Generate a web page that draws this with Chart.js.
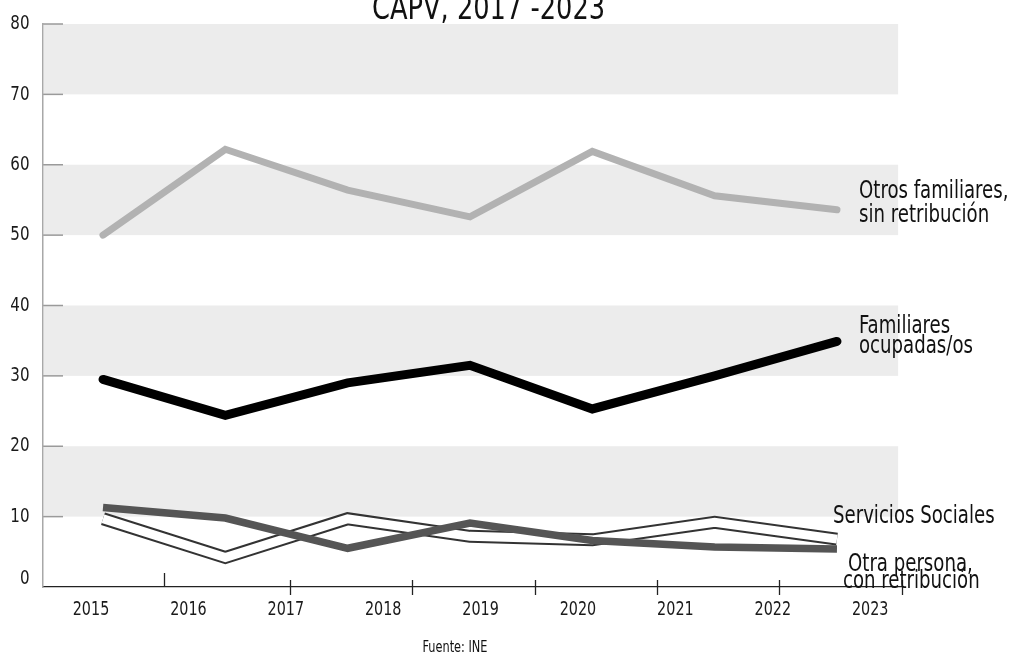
<!DOCTYPE html>
<html><head><meta charset="utf-8">
<script src="https://cdn.jsdelivr.net/npm/chart.js@4"></script>
<style>html,body{margin:0;padding:0;background:#fff}canvas{display:block}</style>
</head><body>
<canvas id="c" width="1011" height="654"></canvas>
<script>
// ---- data ----
const years = ['2017','2018','2019','2020','2021','2022','2023'];
const axisYearLabels = ['2015','2016','2017','2018','2019','2020','2021','2022','2023'];
const otrosFamiliares = [50.0, 62.2, 56.4, 52.6, 61.9, 55.6, 53.6];
const familiaresOcupadas = [29.5, 24.4, 29.0, 31.5, 25.3, 30.0, 34.9];
const serviciosSociales = [9.7, 4.2, 9.7, 7.2, 6.7, 9.2, 6.8];
const otraPersona = [11.3, 9.8, 5.5, 9.1, 6.6, 5.7, 5.4];
const yTickValues = [0, 10, 20, 30, 40, 50, 60, 70, 80];
const titleText = 'CAPV, 2017 -2023';
const sourceText = 'Fuente: INE';
const seriesLabels = {
  otros: ['Otros familiares,', 'sin retribución'],
  familiares: ['Familiares', 'ocupadas/os'],
  servicios: ['Servicios Sociales'],
  otra: ['Otra persona,', 'con retribución']
};

const FONT = '"Liberation Sans Narrow", "DejaVu Sans Condensed", "Roboto Condensed", sans-serif';
const SX = 0.84; // horizontal condensing of text
const pts = arr => years.map((_, i) => ({x: i, y: arr[i]}));

function txt(ctx, t, x, y, size, align, base, weight) {
  ctx.save();
  ctx.font = (weight || 'normal') + ' ' + size + 'px ' + FONT;
  ctx.textAlign = align;
  ctx.textBaseline = base;
  ctx.translate(x, y);
  ctx.scale(SX, 1);
  ctx.fillText(t, 0, 0);
  ctx.restore();
}

const decor = {
  id: 'decor',
  beforeDraw(chart) {
    const {ctx, chartArea: a, scales: {x, y}} = chart;
    ctx.save();
    ctx.fillStyle = '#ececec';
    const right = x.getPixelForValue(6.5);
    yTickValues.forEach(v => {
      if ((v / 10) % 2 === 1) {
        const t = y.getPixelForValue(v + 10), b = y.getPixelForValue(v);
        ctx.fillRect(a.left + 1, t, right - a.left - 1, b - t);
      }
    });
    ctx.strokeStyle = '#9a9a9a';
    ctx.lineWidth = 1.5;
    yTickValues.forEach(v => {
      if (v === 0) return;
      const p = y.getPixelForValue(v);
      ctx.beginPath(); ctx.moveTo(a.left, p); ctx.lineTo(a.left + 20, p); ctx.stroke();
    });
    ctx.restore();
  },
  afterDraw(chart) {
    const {ctx, chartArea: a, scales: {x, x2, y}} = chart;
    ctx.save();
    ctx.strokeStyle = '#222';
    ctx.lineWidth = 1.3;
    [0.5, 1.53, 2.53, 3.53, 4.53, 5.53, 6.53].forEach((v, i) => {
      const p = Math.round(x.getPixelForValue(v)) + 0.5;
      ctx.beginPath();
      if (i === 0) { ctx.moveTo(p, a.bottom - 14); ctx.lineTo(p, a.bottom); }
      else { ctx.moveTo(p, a.bottom - 7); ctx.lineTo(p, a.bottom + 8); }
      ctx.stroke();
    });
    ctx.fillStyle = '#1a1a1a';
    // axis tick labels, positioned by the chart's scales
    y.ticks.forEach(t => {
      const p = y.getPixelForValue(t.value) - (t.value === 0 ? 8 : 0);
      txt(ctx, String(t.value), a.left - 13.5, p, 20, 'right', 'middle');
    });
    x2.ticks.forEach((t, i) => {
      txt(ctx, axisYearLabels[i], x2.getPixelForValue(t.value), a.bottom + 23, 19, 'center', 'middle');
    });
    ctx.fillStyle = '#111';
    txt(ctx, titleText, 372, 18.5, 34, 'left', 'alphabetic');
    const put = (lines, px, bases) => lines.forEach((t, i) => txt(ctx, t, px[i], bases[i], 24, 'left', 'alphabetic'));
    put(seriesLabels.otros, [859, 859], [197.5, 221.7]);
    put(seriesLabels.familiares, [859, 859], [333.3, 353.3]);
    put(seriesLabels.servicios, [833], [522.7]);
    put(seriesLabels.otra, [848, 843], [570.5, 588.3]);
    txt(ctx, sourceText, 455, 651.5, 15, 'center', 'alphabetic');
    ctx.restore();
  }
};

new Chart(document.getElementById('c'), {
  type: 'line',
  data: {
    datasets: [
      {label: 'Otra persona, con retribución', data: pts(otraPersona), borderColor: '#555555', borderWidth: 7.5, borderCapStyle: 'butt', borderJoinStyle: 'miter'},
      {label: 'Servicios Sociales (inner)', data: pts(serviciosSociales), borderColor: '#ffffff', borderWidth: 9, borderCapStyle: 'butt', borderJoinStyle: 'miter'},
      {label: 'Servicios Sociales', data: pts(serviciosSociales), borderColor: '#333333', borderWidth: 13, borderCapStyle: 'butt', borderJoinStyle: 'miter'},
      {label: 'Familiares ocupadas/os', data: pts(familiaresOcupadas), borderColor: '#000000', borderWidth: 9, borderCapStyle: 'round', borderJoinStyle: 'miter'},
      {label: 'Otros familiares, sin retribución', data: pts(otrosFamiliares), borderColor: '#b2b2b2', borderWidth: 7, borderCapStyle: 'round', borderJoinStyle: 'miter'}
    ]
  },
  options: {
    responsive: false,
    animation: false,
    events: [],
    elements: {point: {radius: 0}, line: {tension: 0}},
    layout: {padding: {top: 24, right: 108, bottom: 27, left: 0}},
    plugins: {legend: {display: false}, tooltip: {enabled: false}, title: {display: false}},
    scales: {
      x: {type: 'linear', display: false, min: -0.4905, max: 6.5397},
      x2: {
        type: 'linear', position: 'bottom', min: -0.4928, max: 8.337,
        afterBuildTicks(s) { s.ticks = axisYearLabels.map((_, i) => ({value: i})); },
        afterFit(s) { s.height = 40; },
        grid: {display: false, drawTicks: false},
        border: {display: true, color: '#222', width: 1.3},
        ticks: {display: false}
      },
      y: {
        min: 0, max: 80,
        afterBuildTicks(s) { s.ticks = yTickValues.map(v => ({value: v})); },
        afterFit(s) { s.width = 43; },
        grid: {display: false, drawTicks: false},
        border: {display: true, color: '#a8a8a8', width: 1.5},
        ticks: {display: false}
      }
    }
  },
  plugins: [decor]
});
</script>
</body></html>
